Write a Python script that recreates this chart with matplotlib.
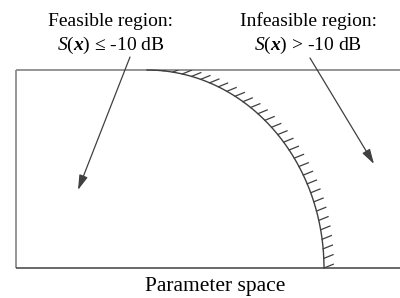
import numpy as np
import matplotlib
matplotlib.use('Agg')
import matplotlib.pyplot as plt
from matplotlib.patches import Rectangle

plt.rcParams['font.family'] = ['Liberation Serif', 'DejaVu Serif']
plt.rcParams['mathtext.fontset'] = 'custom'
plt.rcParams['mathtext.rm'] = 'Liberation Serif'
plt.rcParams['mathtext.it'] = 'Liberation Serif:italic'
plt.rcParams['mathtext.bf'] = 'Liberation Serif:bold'
plt.rcParams['mathtext.bfit'] = 'Liberation Serif:italic:bold'

# labels
region_titles = ['Feasible region:', 'Infeasible region:']
region_conds = [r'$S$($\boldsymbol{x}$) ≤ -10 dB', r'$S$($\boldsymbol{x}$) > -10 dB']
space_label = 'Parameter space'

# geometry in pixel units of the 400x298 canvas
box = (16, 70, 400, 268)          # left, top, right, bottom
arc_center = (147, 268)
arc_a, arc_b = 177, 198
n_hatch = 31
hatch_len = 10
hatch_ang = np.deg2rad(22)
label_x = [111, 308]
arrow_from = [(130, 57), (310, 58)]
arrow_to = [(78, 190), (374, 164)]

fig = plt.figure(figsize=(4, 2.98), dpi=100)
ax = fig.add_axes([0, 0, 1, 1])
ax.set_xlim(0, 400)
ax.set_ylim(298, 0)
ax.axis('off')

l, t, r, b = box
ax.plot([l, r], [t, t], color='#8c8c8c', lw=1.3, solid_capstyle='butt')
ax.plot([l, l], [t, b], color='#8c8c8c', lw=1.3, solid_capstyle='butt')
ax.plot([l, r], [b, b], color='#404040', lw=1.1, solid_capstyle='butt')

# boundary arc
th = np.linspace(0, np.pi / 2, 300)
xs = arc_center[0] + arc_a * np.sin(th)
ys = arc_center[1] - arc_b * np.cos(th)
ax.plot(xs, ys, color='#404040', lw=1.0)

# hatches on the infeasible side
seg = np.hypot(np.diff(xs), np.diff(ys))
s = np.concatenate([[0], np.cumsum(seg)])
pos = np.linspace(s[-1] - 9.6 * (n_hatch - 1), s[-1], n_hatch)
hx = np.interp(pos, s, xs)
hy = np.interp(pos, s, ys)
clip = Rectangle((l, t), r - l, b - t, transform=ax.transData)
for x0, y0 in zip(hx, hy):
    ln, = ax.plot([x0, x0 + hatch_len * np.cos(hatch_ang)],
                  [y0, y0 - hatch_len * np.sin(hatch_ang)],
                  color='#404040', lw=0.9)
    ln.set_clip_path(clip)

# text and arrows
for i in range(2):
    ax.text(label_x[i], 26, region_titles[i], ha='center', va='baseline', fontsize=14)
    ax.text(label_x[i], 50, region_conds[i], ha='center', va='baseline', fontsize=14)
    ax.annotate('', xy=arrow_to[i], xytext=arrow_from[i],
                arrowprops=dict(arrowstyle='-|>,head_length=0.75,head_width=0.22',
                                color='#404040', lw=0.9, mutation_scale=12,
                                shrinkA=0, shrinkB=0))

ax.text(215, 291, space_label, ha='center', va='baseline', fontsize=15.5)

fig.savefig('out.png', dpi=100)
